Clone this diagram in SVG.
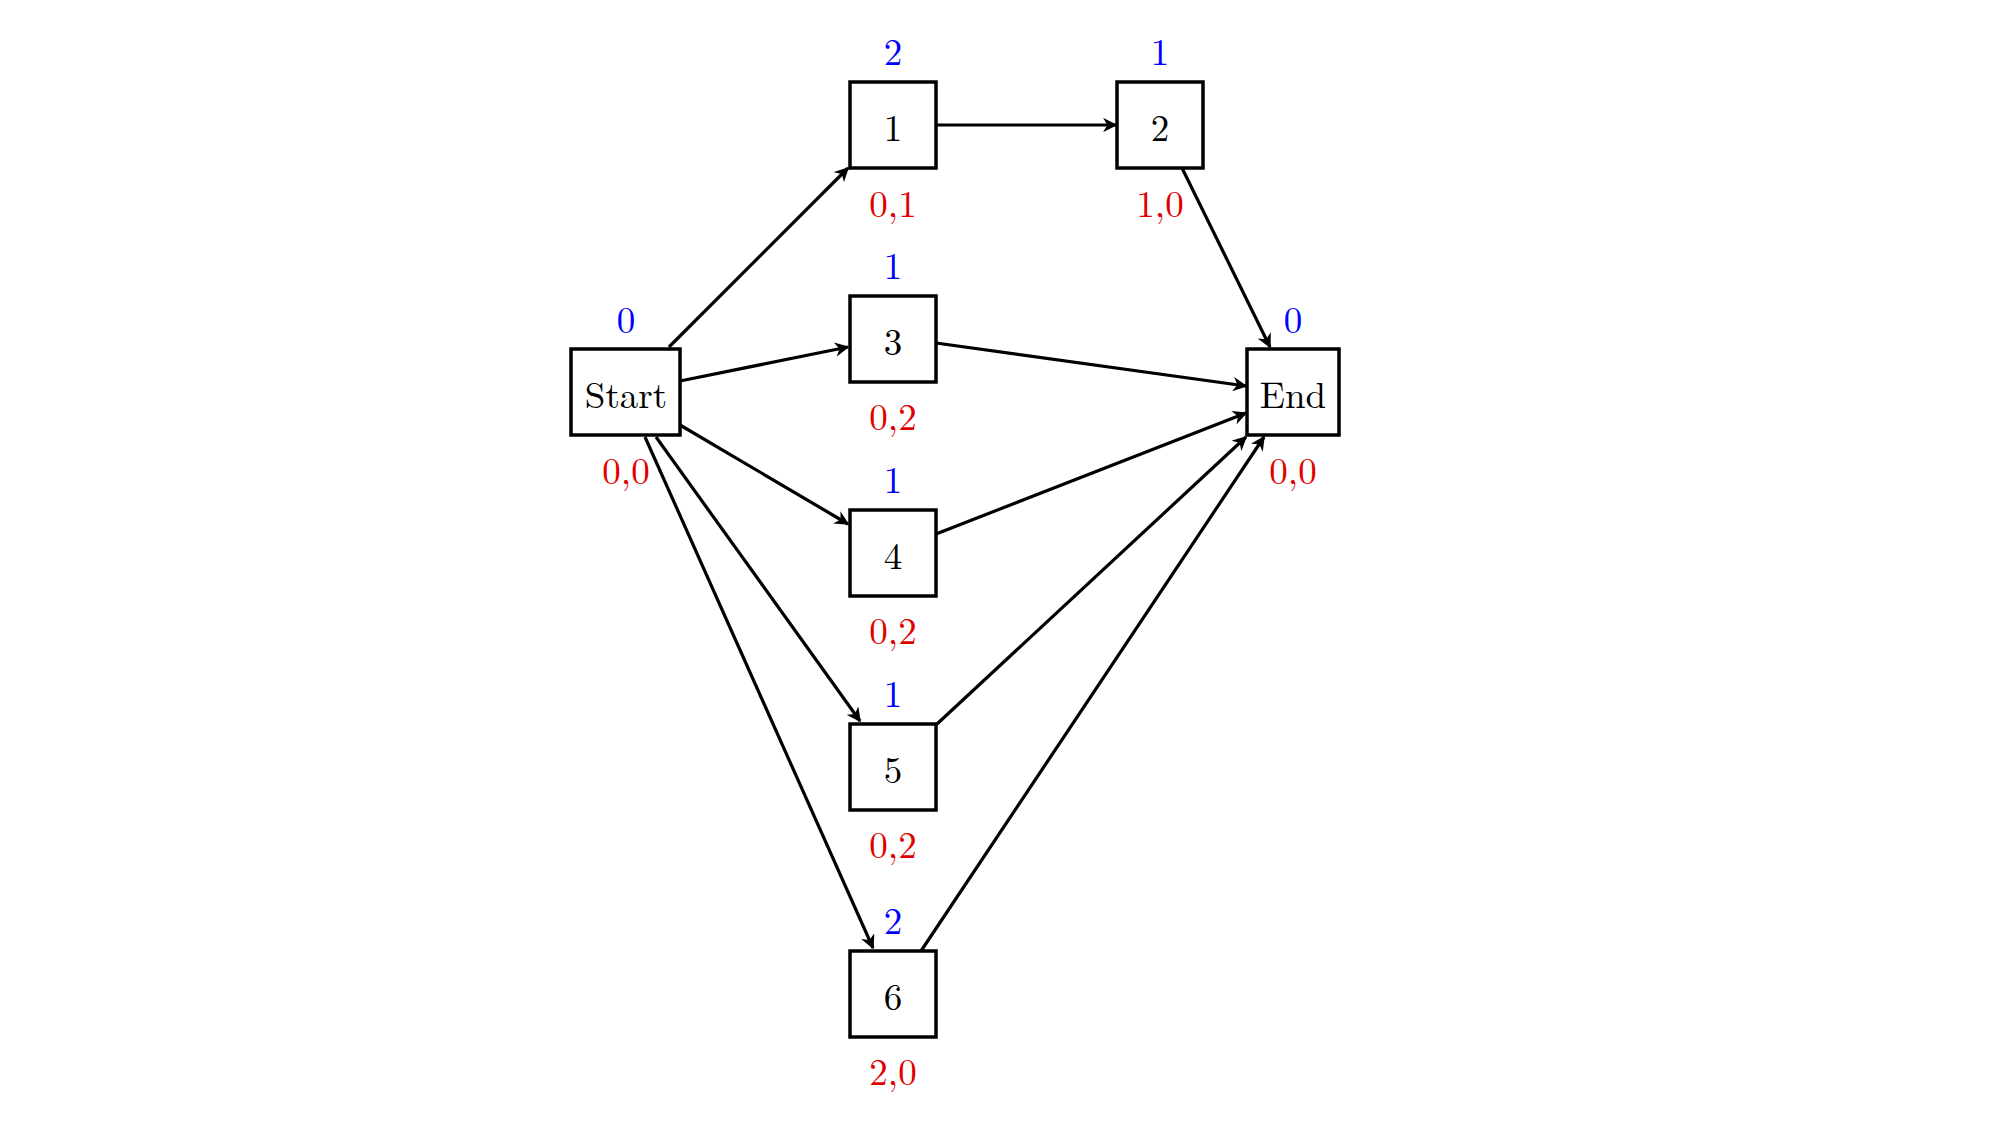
<svg xmlns="http://www.w3.org/2000/svg" width="1999" height="1128" viewBox="0 0 1999 1128">
<style>
.box{fill:#fff;stroke:#000;stroke-width:3.5}
text{font-family:"Latin Modern Roman","Liberation Serif","DejaVu Serif",serif;font-size:37px;text-anchor:middle;dominant-baseline:central}
.b{fill:#0000ff}.r{fill:#e00000}
.e{stroke:#000;stroke-width:3.2;fill:none;marker-end:url(#a)}
</style>
<defs><marker id="a" viewBox="0 0 10 10" refX="9" refY="5" markerWidth="4.5" markerHeight="4.5" orient="auto" markerUnits="strokeWidth"><path d="M0,0 L10,5 L0,10 L3,5 z" fill="#000"/></marker></defs>
<rect width="1999" height="1128" fill="#fff"/>
<g id="edges">
<line class="e" x1="669" y1="347" x2="848" y2="168"/>
<line class="e" x1="680" y1="381" x2="848" y2="347"/>
<line class="e" x1="680" y1="425" x2="848" y2="524"/>
<line class="e" x1="656" y1="437" x2="860" y2="721"/>
<line class="e" x1="645" y1="437" x2="873" y2="948"/>
<line class="e" x1="936" y1="125" x2="1116" y2="125"/>
<line class="e" x1="1182" y1="168" x2="1270" y2="347"/>
<line class="e" x1="936" y1="343" x2="1246" y2="386"/>
<line class="e" x1="936" y1="534" x2="1246" y2="413"/>
<line class="e" x1="937" y1="724" x2="1246" y2="437"/>
<line class="e" x1="921" y1="951" x2="1264" y2="437"/>
</g>
<g id="start"><rect class="box" x="571" y="349" width="109" height="86"/><text x="626" y="392">Start</text><text class="b" x="626" y="317">0</text><text class="r" x="626" y="468">0,0</text></g>
<g id="n1"><rect class="box" x="850" y="82" width="86" height="86"/><text x="893" y="125">1</text><text class="b" x="893" y="49">2</text><text class="r" x="893" y="201">0,1</text></g>
<g id="n2"><rect class="box" x="1117" y="82" width="86" height="86"/><text x="1160" y="125">2</text><text class="b" x="1160" y="49">1</text><text class="r" x="1160" y="201">1,0</text></g>
<g id="n3"><rect class="box" x="850" y="296" width="86" height="86"/><text x="893" y="339">3</text><text class="b" x="893" y="263">1</text><text class="r" x="893" y="414">0,2</text></g>
<g id="n4"><rect class="box" x="850" y="510" width="86" height="86"/><text x="893" y="553">4</text><text class="b" x="893" y="477">1</text><text class="r" x="893" y="628">0,2</text></g>
<g id="n5"><rect class="box" x="850" y="724" width="86" height="86"/><text x="893" y="767">5</text><text class="b" x="893" y="691">1</text><text class="r" x="893" y="842">0,2</text></g>
<g id="n6"><rect class="box" x="850" y="951" width="86" height="86"/><text x="893" y="994">6</text><text class="b" x="893" y="918">2</text><text class="r" x="893" y="1069">2,0</text></g>
<g id="end"><rect class="box" x="1247" y="349" width="92" height="86"/><text x="1293" y="392">End</text><text class="b" x="1293" y="317">0</text><text class="r" x="1293" y="468">0,0</text></g>
</svg>
